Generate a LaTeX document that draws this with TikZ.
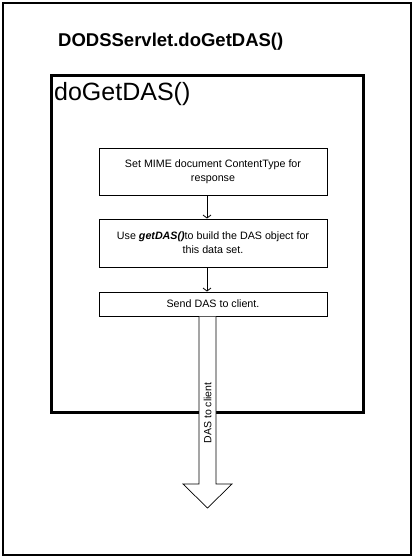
\documentclass[tikz,border=0pt]{standalone}
\usepackage{fontspec}
\setmainfont{Liberation Sans}
\usetikzlibrary{arrows.meta}
\begin{document}
\begin{tikzpicture}[x=1pt,y=-1pt,
  stepbox/.style={draw,line width=1pt,minimum width=228pt,inner sep=0pt,align=center,font=\fontsize{10.7}{14}\selectfont},
  flow/.style={draw,line width=0.8pt,-{Straight Barb[length=3pt,width=8pt]}}]
\useasboundingbox (0,0) rectangle (414,558);
\draw[line width=2.2pt] (3,3) rectangle (411,555);
\node[font=\fontsize{18.5}{20}\bfseries\selectfont,anchor=west,inner sep=0pt] (title) at (58,42) {DODSServlet.doGetDAS()};
\draw[line width=3pt] (51.5,75) rectangle (363,412);
\node[font=\fontsize{25}{28}\selectfont,anchor=west,inner sep=0pt] (inner) at (54,94) {doGetDAS()};
\node[stepbox,minimum height=47pt] (s1) at (213,171.5) {Set MIME document ContentType for\\response};
\node[stepbox,minimum height=48pt] (s2) at (213,243) {Use \textbf{\textit{getDAS()}}to build the DAS object for\\this data set.};
\node[stepbox,minimum height=24pt] (s3) at (213,304) {Send DAS to client.};
\draw[flow] (s1.south -| 207,0) -- (s2.north -| 207,0);
\draw[flow] (s2.south -| 207,0) -- (s3.north -| 207,0);
\coordinate (tip) at (207.5,508);
\draw[fill=white,line width=0.7pt] (s3.south -| 199,0) -- (199,484) -- (183,484) -- (tip) -- (232,484) -- (216,484) -- (s3.south -| 216,0);
\node[rotate=90,font=\fontsize{10.5}{12}\selectfont,inner sep=0pt] (lbl) at (207.5,413) {DAS to client};
\end{tikzpicture}
\end{document}
